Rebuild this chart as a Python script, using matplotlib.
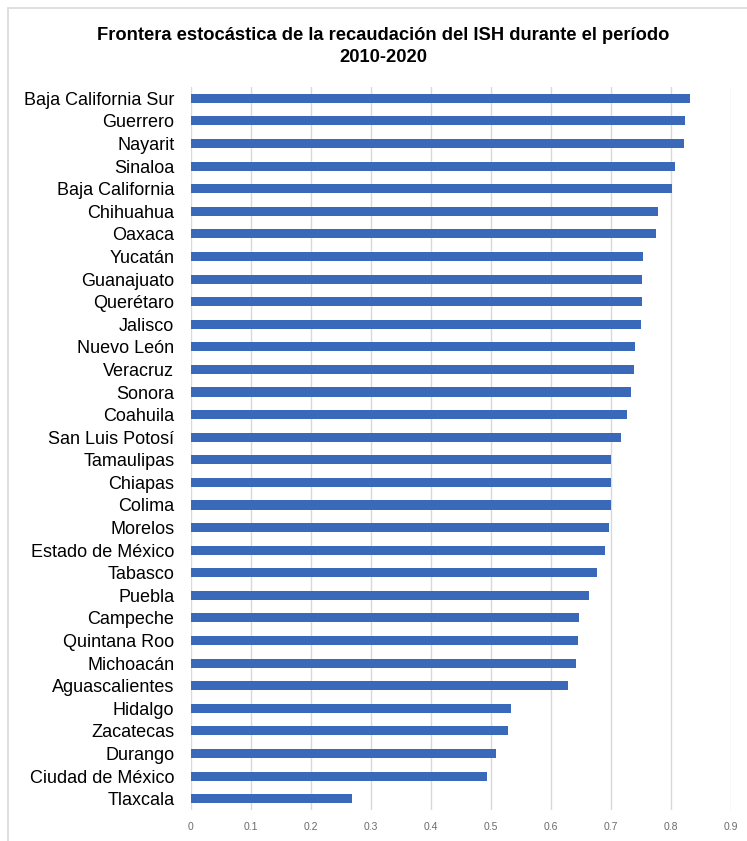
import numpy as np
import matplotlib.pyplot as plt
from matplotlib.patches import Rectangle

plt.rcParams['font.family'] = ['Liberation Sans', 'DejaVu Sans']

estados = ['Baja California Sur', 'Guerrero', 'Nayarit', 'Sinaloa', 'Baja California',
           'Chihuahua', 'Oaxaca', 'Yucatán', 'Guanajuato', 'Querétaro', 'Jalisco',
           'Nuevo León', 'Veracruz', 'Sonora', 'Coahuila', 'San Luis Potosí',
           'Tamaulipas', 'Chiapas', 'Colima', 'Morelos', 'Estado de México',
           'Tabasco', 'Puebla', 'Campeche', 'Quintana Roo', 'Michoacán',
           'Aguascalientes', 'Hidalgo', 'Zacatecas', 'Durango', 'Ciudad de México',
           'Tlaxcala']
eficiencia = [0.832, 0.824, 0.822, 0.807, 0.801, 0.778, 0.775, 0.754, 0.751, 0.751,
              0.750, 0.740, 0.738, 0.734, 0.727, 0.716, 0.700, 0.700, 0.700, 0.697,
              0.690, 0.677, 0.664, 0.647, 0.645, 0.641, 0.629, 0.533, 0.528, 0.509,
              0.493, 0.268]
ticks = np.arange(0, 0.91, 0.1)
tick_labels = ['0', '0.1', '0.2', '0.3', '0.4', '0.5', '0.6', '0.7', '0.8', '0.9']

W, H = 747, 841
fig = plt.figure(figsize=(W / 100, H / 100), dpi=100)

# marco gris claro alrededor del grafico
fig.patches.append(Rectangle((8 / W, -0.01), 1.0, 1 - 8 / H + 0.01, transform=fig.transFigure,
                             fill=False, edgecolor='#d9d9d9', linewidth=1.2))

ax = fig.add_axes([191 / W, 1 - 810 / H, 540 / W, 723 / H])
y = np.arange(len(estados))
ax.barh(y, eficiencia, height=0.4, color='#3b69ba', zorder=3)
ax.set_ylim(len(estados) - 0.5, -0.5)
ax.set_xlim(0, 0.9)
ax.set_yticks(y)
ax.set_yticklabels(estados, fontsize=13)
ax.set_xticks(ticks)
ax.set_xticklabels(tick_labels, fontsize=7.5, color='#6b6b6b')
ax.tick_params(axis='y', length=0, pad=12)
ax.tick_params(axis='x', length=0, pad=9)
ax.grid(axis='x', color='#d9d9d9', linewidth=1.0, zorder=0)
for s in ax.spines.values():
    s.set_visible(False)

fig.text(383 / W, 1 - 35 / H, 'Frontera estocástica de la recaudación del ISH durante el período',
         ha='center', va='center', fontsize=13.2, fontweight='bold')
fig.text(383 / W, 1 - 57 / H, '2010-2020', ha='center', va='center', fontsize=13.2, fontweight='bold')

fig.savefig('out.png', dpi=100, facecolor='white')
